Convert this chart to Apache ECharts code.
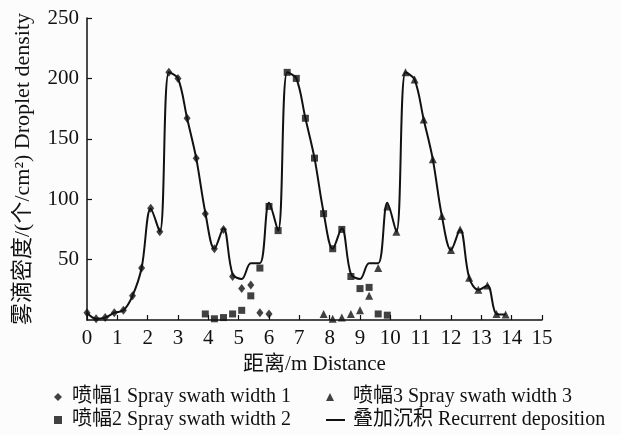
<!DOCTYPE html>
<html>
<head>
<meta charset="utf-8">
<script src="https://cdn.jsdelivr.net/npm/echarts@6/dist/echarts.min.js"></script>
<style>html,body{margin:0;padding:0;background:#fcfcfc;}#c{width:621px;height:435px;}</style>
</head>
<body>
<div id="c"></div>
<script>
// Distances (m) and droplet densities
const dist1 = [0,0.3,0.6,0.9,1.2,1.5,1.8,2.1,2.4,2.7,3.0,3.3,3.6,3.9,4.2,4.5,4.8,5.1,5.4,5.7,6.0];
const swath1 = [6,1,2,6,8,20,43,92.5,73,205,200,167,134,88,59,75,36,26,29,6,5];
const dist2 = [3.9,4.2,4.5,4.8,5.1,5.4,5.7,6.0,6.3,6.6,6.9,7.2,7.5,7.8,8.1,8.4,8.7,9.0,9.3,9.6,9.9];
const swath2 = [5,1,2,5,8,20,43,94,74,205,200,167,134,88,59,75,36,26,27,5,4];
const dist3 = [7.8,8.1,8.4,8.7,9.0,9.3,9.6,9.9,10.2,10.5,10.8,11.1,11.4,11.7,12.0,12.3,12.6,12.9,13.2,13.5,13.8];
const swath3 = [5,1,2,5,8,20,43,94,73,205,199,166,133,86,58,75,35,25,28.5,5,4.5];
const distSum = [0,0.3,0.6,0.9,1.2,1.5,1.8,2.1,2.4,2.7,3.0,3.3,3.6,3.9,4.2,4.5,4.8,5.1,5.4,5.7,6.0,6.3,6.6,6.9,7.2,7.5,7.8,8.1,8.4,8.7,9.0,9.3,9.6,9.9,10.2,10.5,10.8,11.1,11.4,11.7,12.0,12.3,12.6,12.9,13.2,13.5,13.8];
const recurrent = [6,1,2,6,8,20,43,92,73,205,200,167,134,89,59,76,38,34,47,47,97,74,205,200,167,134,89,59,76,38,34,47,47,97,73,205,199,166,133,86,58,75,35,25,28.5,5,4.5];
const xTicks = [0,1,2,3,4,5,6,7,8,9,10,11,12,13,14,15];
const yTicks = [0,50,100,150,200,250];
const names = ['喷幅1 Spray swath width 1','喷幅2 Spray swath width 2','喷幅3 Spray swath width 3','叠加沉积 Recurrent deposition'];

const zip = (a, b) => a.map((v, i) => [v, b[i]]);
const FONT = '"Liberation Serif","Noto Sans CJK SC",serif';
const INK = '#111111';

const chart = echarts.init(document.getElementById('c'), null, {renderer: 'canvas'});
const legendText = (pad) => ({fontFamily: FONT, fontSize: 20, color: INK, lineHeight: 22, padding: [0, 0, 0, pad]});
const legendBase = {orient: 'vertical', itemWidth: 8, itemHeight: 8, selectedMode: false, padding: 0};
chart.setOption({
  backgroundColor: '#fcfcfc',
  animation: false,
  grid: {left: 87, right: 79, top: 18, bottom: 115, containLabel: false},
  xAxis: {
    type: 'value', min: xTicks[0], max: xTicks[xTicks.length - 1], interval: 1,
    name: '距离/m Distance', nameLocation: 'middle', nameGap: 28,
    nameTextStyle: {fontFamily: FONT, fontSize: 21, color: INK},
    axisLine: {show: true, onZero: false, lineStyle: {color: INK, width: 1.5}},
    axisTick: {show: true, inside: true, length: 5, lineStyle: {color: INK, width: 1.2}},
    axisLabel: {fontFamily: FONT, fontSize: 21, color: INK, margin: 8},
    splitLine: {show: false}
  },
  yAxis: {
    type: 'value', min: yTicks[0], max: yTicks[yTicks.length - 1], interval: 50,
    name: '雾滴密度/(个/cm²) Droplet density', nameLocation: 'middle', nameGap: 53, nameRotate: 90,
    nameTextStyle: {fontFamily: FONT, fontSize: 22, color: INK},
    axisLine: {show: true, lineStyle: {color: INK, width: 1.5}},
    axisTick: {show: true, inside: true, length: 5, lineStyle: {color: INK, width: 1.2}},
    axisLabel: {fontFamily: FONT, fontSize: 21, color: INK, margin: 8, showMinLabel: false},
    splitLine: {show: false}
  },
  legend: [
    Object.assign({}, legendBase, {data: [{name: names[0], icon: 'diamond'}], left: 54, top: 386, textStyle: legendText(5)}),
    Object.assign({}, legendBase, {data: [{name: names[1], icon: 'rect'}], left: 54, top: 409, textStyle: legendText(5)}),
    Object.assign({}, legendBase, {data: [{name: names[2], icon: 'triangle'}], left: 326, top: 386, textStyle: legendText(14)}),
    Object.assign({}, legendBase, {data: [{name: names[3], icon: 'rect'}], left: 326, top: 409, itemWidth: 19, itemHeight: 2, textStyle: legendText(3)})
  ],
  series: [
    {name: names[3], type: 'line', data: zip(distSum, recurrent), smooth: 0.35, symbol: 'none',
     lineStyle: {color: INK, width: 2}, itemStyle: {color: INK}, z: 2},
    {name: names[0], type: 'scatter', data: zip(dist1, swath1), symbol: 'diamond', symbolSize: [7, 9],
     itemStyle: {color: INK}, z: 3},
    {name: names[1], type: 'scatter', data: zip(dist2, swath2), symbol: 'rect', symbolSize: 7,
     itemStyle: {color: INK}, z: 3},
    {name: names[2], type: 'scatter', data: zip(dist3, swath3), symbol: 'triangle', symbolSize: 8,
     itemStyle: {color: INK}, z: 3}
  ]
});
</script>
</body>
</html>
